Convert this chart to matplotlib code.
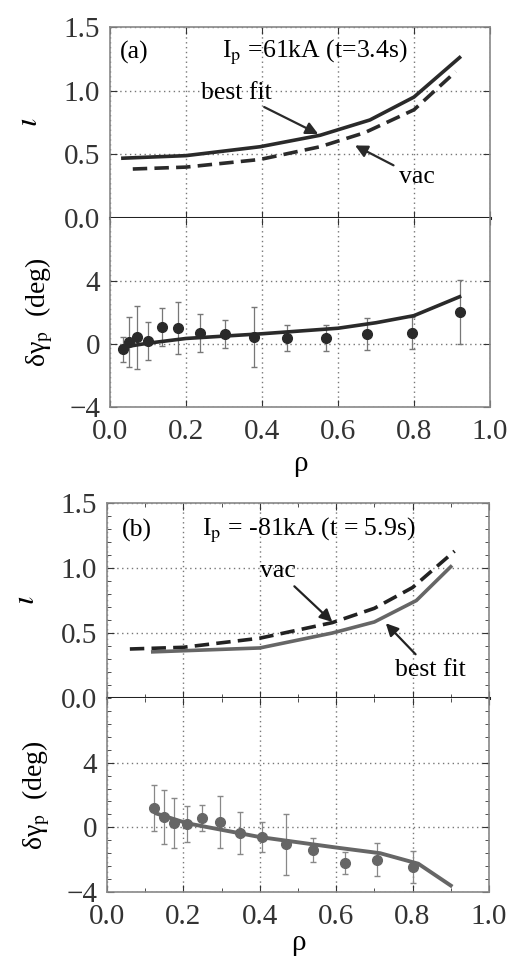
import numpy as np
import matplotlib
matplotlib.use('Agg')
from matplotlib import pyplot as plt
from matplotlib.ticker import MultipleLocator

plt.rcParams['font.family'] = ['Liberation Serif', 'DejaVu Serif']
plt.rcParams['mathtext.fontset'] = 'stix'

# ---- (a) Ip = 61 kA ----
a_fit_rho = [0.034, 0.2, 0.395, 0.553, 0.684, 0.80, 0.92]
a_fit_iota = [0.47, 0.49, 0.56, 0.65, 0.77, 0.95, 1.26]
a_vac_rho = [0.06, 0.2, 0.395, 0.553, 0.67, 0.80, 0.91]
a_vac_iota = [0.385, 0.40, 0.46, 0.56, 0.67, 0.85, 1.15]

a_pt_rho = [0.033, 0.051, 0.07, 0.10, 0.136, 0.18, 0.237, 0.303, 0.379,
            0.466, 0.568, 0.676, 0.796, 0.921]
a_pt_dg = [-0.33, 0.13, 0.44, 0.19, 1.08, 1.0, 0.7, 0.63, 0.44,
           0.38, 0.38, 0.63, 0.7, 2.03]
a_pt_err = [0.8, 1.6, 2.0, 1.2, 1.2, 1.65, 1.2, 0.9, 1.9,
            0.8, 0.8, 1.0, 1.0, 2.05]
a_line_rho = [0.034, 0.1, 0.2, 0.4, 0.6, 0.7, 0.8, 0.92]
a_line_dg = [-0.2, 0.05, 0.35, 0.65, 1.0, 1.35, 1.8, 3.0]

# ---- (b) Ip = -81 kA ----
b_fit_rho = [0.12, 0.4, 0.59, 0.70, 0.81, 0.90]
b_fit_iota = [0.355, 0.385, 0.50, 0.585, 0.75, 1.01]
b_vac_rho = [0.06, 0.2, 0.40, 0.59, 0.70, 0.80, 0.91]
b_vac_iota = [0.377, 0.39, 0.46, 0.58, 0.69, 0.85, 1.13]

b_pt_rho = [0.124, 0.15, 0.175, 0.21, 0.25, 0.296, 0.348, 0.406, 0.47,
            0.54, 0.623, 0.708, 0.80]
b_pt_dg = [1.19, 0.64, 0.27, 0.19, 0.58, 0.33, -0.36, -0.6, -1.05,
           -1.4, -2.2, -2.0, -2.45]
b_pt_err = [1.4, 1.65, 1.55, 1.1, 0.8, 1.6, 1.3, 0.9, 1.9,
            0.75, 0.7, 1.0, 1.0]
b_line_rho = [0.13, 0.21, 0.4, 0.6, 0.715, 0.815, 0.90]
b_line_dg = [0.85, 0.25, -0.6, -1.25, -1.6, -2.25, -3.6]

fig = plt.figure(figsize=(5.08, 9.58), dpi=100)
left, width = 0.2165, 0.748
fs = 21
tfs = 18.5

def setup(ax_t, ax_b, minor, xpad):
    for ax in (ax_t, ax_b):
        ax.set_xlim(0, 1)
        ax.xaxis.set_major_locator(MultipleLocator(0.2))
        ax.grid(True, linestyle=(0, (1, 2.5)), color='#777777', linewidth=1)
        ax.tick_params(direction='in', which='both', top=True, right=True,
                       labelsize=fs, colors='#333333', length=5)
        ax.tick_params(which='minor', length=3)
        ax.tick_params(axis='x', pad=9)
        ax.tick_params(axis='y', pad=7)
        for s in ax.spines.values():
            s.set_color('#888888')
            s.set_linewidth(1.2)
    ax_t.set_ylim(0, 1.5)
    ax_t.yaxis.set_major_locator(MultipleLocator(0.5))
    ax_t.yaxis.set_major_formatter(plt.FormatStrFormatter('%.1f'))
    ax_t.tick_params(labelbottom=False)
    ax_t.spines['bottom'].set_color('#222222')
    ax_t.spines['bottom'].set_linewidth(2.2)
    ax_b.set_ylim(-4, 8)
    ax_b.set_yticks([-4, 0, 4])
    ax_b.xaxis.set_major_formatter(plt.FormatStrFormatter('%.1f'))
    ax_b.spines['top'].set_visible(False)
    if minor:
        ax_t.yaxis.set_minor_locator(MultipleLocator(0.1))
        ax_b.yaxis.set_minor_locator(MultipleLocator(0.8))
        ax_b.xaxis.set_minor_locator(MultipleLocator(0.1))
        ax_t.xaxis.set_minor_locator(MultipleLocator(0.1))
    ax_t.set_ylabel(r'$\iota$', fontsize=fs + 2, labelpad=14)
    ax_b.set_ylabel('δγ$_\\mathrm{p}$  (deg)', fontsize=fs - 1, labelpad=10)
    ax_b.set_xlabel('ρ', fontsize=fs, labelpad=xpad)

# panel (a)
a_t = fig.add_axes([left, 0.7724, width, 0.1994])
a_b = fig.add_axes([left, 0.5752, width, 0.1972])
setup(a_t, a_b, False, 4)
c_a = '#2a2a2a'
a_t.plot(a_fit_rho, a_fit_iota, '-', color=c_a, linewidth=2.6)
a_t.plot(a_vac_rho, a_vac_iota, '--', color=c_a, linewidth=2.6, dashes=(4, 2))
a_t.text(0.026, 1.3, '(a)', fontsize=tfs, va='center')
a_t.text(0.295, 1.3, 'I$_\\mathrm{p}$ =61kA (t=3.4s)', fontsize=tfs, va='center')
a_t.annotate('best fit', xy=(0.548, 0.66), xytext=(0.24, 0.98), fontsize=tfs,
             va='center', arrowprops=dict(arrowstyle='-|>', color=c_a, lw=1.6,
                                          shrinkA=0, shrinkB=0),
             ha='left')
a_t.annotate('vac', xy=(0.645, 0.57), xytext=(0.76, 0.32), fontsize=tfs,
             va='center', ha='left',
             arrowprops=dict(arrowstyle='-|>', color=c_a, lw=1.6,
                             shrinkA=2, shrinkB=0))
a_b.errorbar(a_pt_rho, a_pt_dg, yerr=a_pt_err, fmt='o', color=c_a,
             markersize=7, ecolor='#777777', elinewidth=0.9, capsize=2.5)
a_b.plot(a_line_rho, a_line_dg, '-', color=c_a, linewidth=2.6)

# panel (b)
b_t = fig.add_axes([left - 0.006, 0.2714, width + 0.004, 0.2035])
b_b = fig.add_axes([left - 0.006, 0.0689, width + 0.004, 0.2025])
setup(b_t, b_b, True, 0)
c_b = '#666666'
b_t.plot(b_vac_rho, b_vac_iota, '--', color='#222222', linewidth=2.6, dashes=(4, 2))
b_t.plot(b_fit_rho, b_fit_iota, '-', color=c_b, linewidth=2.6)
b_t.text(0.04, 1.29, '(b)', fontsize=tfs, va='center')
b_t.text(0.25, 1.29, 'I$_\\mathrm{p}$ = -81kA (t = 5.9s)', fontsize=tfs, va='center')
b_t.annotate('vac', xy=(0.59, 0.585), xytext=(0.40, 0.98), fontsize=tfs,
             va='center', ha='left',
             arrowprops=dict(arrowstyle='-|>', color='#222222', lw=1.6,
                             shrinkA=2, shrinkB=0))
b_t.annotate('best fit', xy=(0.73, 0.575), xytext=(0.755, 0.215), fontsize=tfs,
             va='center', ha='left',
             arrowprops=dict(arrowstyle='-|>', color='#222222', lw=1.6,
                             shrinkA=2, shrinkB=0))
b_b.errorbar(b_pt_rho, b_pt_dg, yerr=b_pt_err, fmt='o', color=c_b,
             markersize=7, ecolor='#888888', elinewidth=0.9, capsize=2.5)
b_b.plot(b_line_rho, b_line_dg, '-', color=c_b, linewidth=2.8)

fig.savefig('out.png', dpi=100)
